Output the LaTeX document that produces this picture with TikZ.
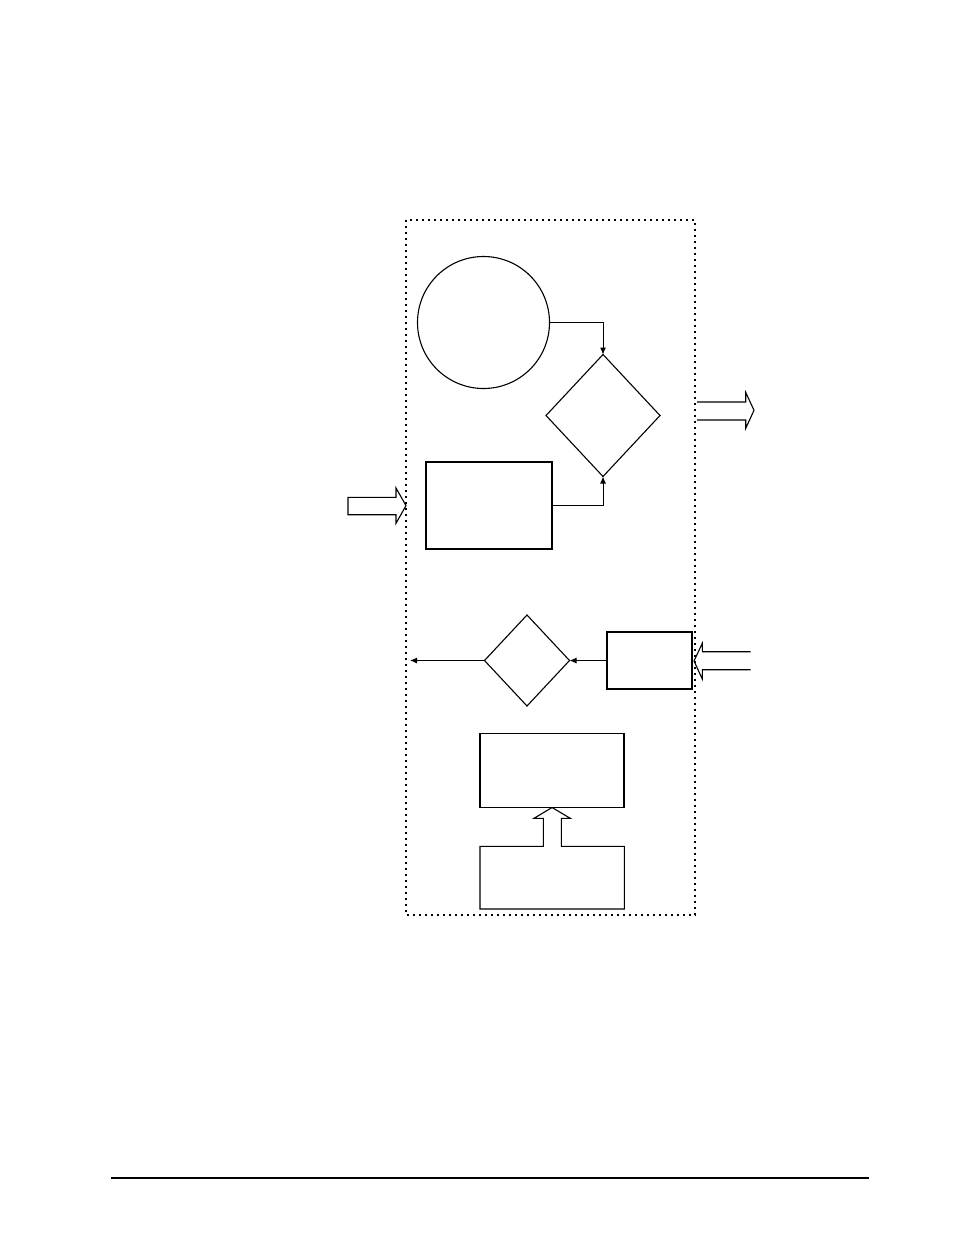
\documentclass[tikz,border=0pt]{standalone}
\usetikzlibrary{shapes.geometric,arrows.meta}
\begin{document}
\begin{tikzpicture}[x=1pt,y=-1pt,
  shp/.style={draw,line width=1.1pt,inner sep=0pt,outer sep=0pt},
  box/.style={shp,rectangle},
  dia/.style={shp,diamond},
  arr/.style={line width=1pt,-{Latex[length=7pt,width=6pt]}},
  blk/.style={line width=1.1pt,line join=miter},
  frame/.style={line width=1.3pt,dash pattern=on 1.6pt off 4.4pt}]
\useasboundingbox (0,0) rectangle (954,1235);
% frame
\draw[frame] (406,220) rectangle (695,915);
% shapes
\node[shp,circle,minimum size=132pt] (circ) at (483.5,322.5) {};
\node[dia,minimum width=114pt,minimum height=122pt] (dia1) at (603,415.5) {};
\node[box,minimum width=126pt,minimum height=87pt] (rect1) at (489,505.5) {};
\node[dia,minimum width=85pt,minimum height=91pt] (dia2) at (527,660.5) {};
\node[box,minimum width=85pt,minimum height=57pt] (rect2) at (649.5,660.5) {};
\node[box,minimum width=144pt,minimum height=74pt] (rect3) at (552,770.5) {};
\coordinate (out2) at (410,660.5);
% connectors
\draw[arr] (circ.east) -| (dia1.north);
\draw[arr] (rect1.east) -| (dia1.south);
\draw[arr] (rect2.west) -- (dia2.east);
\draw[arr] (dia2.west) -- (out2);
% left input block arrow
\draw[blk] (348,497.3) -- (396,497.3) -- (396,488) -- (406,505.6) -- (396,523.3) -- (396,514.7) -- (348,514.7) -- cycle;
% right output block arrow (open tail)
\draw[blk] (697,402) -- (745.7,402) -- (745.7,392.3) -- (754,410.3) -- (745.7,428.3) -- (745.7,420) -- (697,420);
% right input block arrow (open tail)
\draw[blk] (750.7,651.7) -- (702.3,651.7) -- (702.3,643.3) -- (694,661) -- (702.3,679) -- (702.3,669.7) -- (750.7,669.7);
% bottom box merged with upward block arrow
\draw[blk] (480,846.3) -- (543.3,846.3) -- (543.3,818.3) -- (534,818.3) -- (rect3.south) -- (570.3,818.3) -- (561.3,818.3) -- (561.3,846.3) -- (624.3,846.3) -- (624.3,909) -- (480,909) -- cycle;
% footer rule
\draw[line width=1.4pt] (111,1178) -- (869,1178);
\end{tikzpicture}
\end{document}
